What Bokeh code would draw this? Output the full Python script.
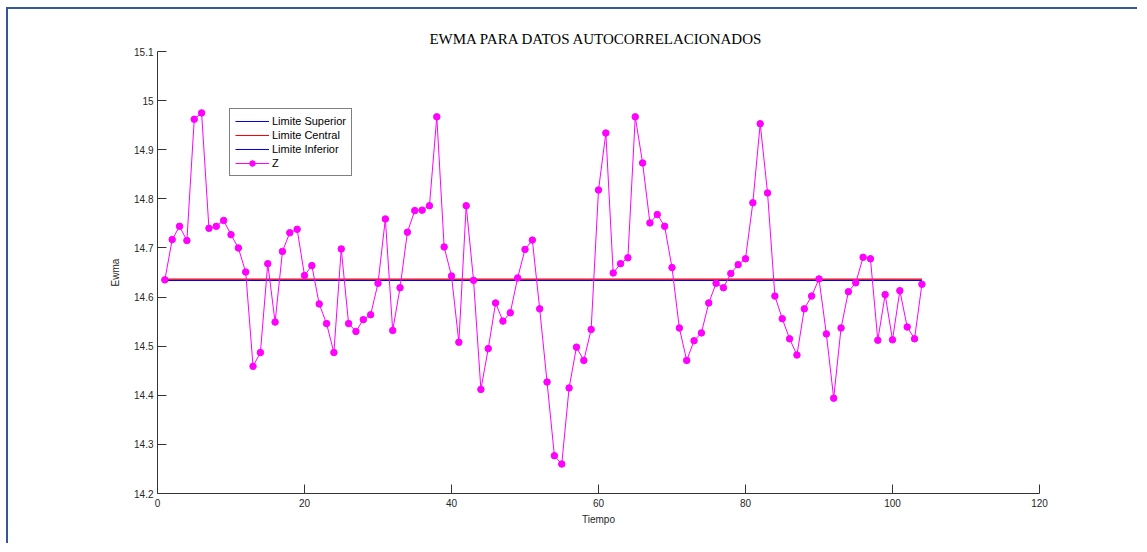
from bokeh.plotting import figure
from bokeh.models import Range1d, FixedTicker, CustomJSTickFormatter, Legend, LegendItem
from bokeh.embed import file_html
from bokeh.resources import INLINE

# ---- data ----
tiempo = list(range(1, 105))
z = [14.635, 14.717, 14.744, 14.715, 14.962, 14.975, 14.740, 14.744, 14.756, 14.727,
     14.700, 14.651, 14.459, 14.487, 14.668, 14.549, 14.693, 14.731, 14.738, 14.644,
     14.664, 14.586, 14.546, 14.487, 14.698, 14.546, 14.530, 14.554, 14.564, 14.628,
     14.759, 14.532, 14.619, 14.732, 14.776, 14.777, 14.786, 14.967, 14.702, 14.643,
     14.508, 14.786, 14.634, 14.412, 14.495, 14.588, 14.551, 14.568, 14.639, 14.697,
     14.716, 14.576, 14.427, 14.277, 14.260, 14.415, 14.498, 14.471, 14.534, 14.818,
     14.934, 14.649, 14.668, 14.680, 14.967, 14.873, 14.751, 14.768, 14.744, 14.660,
     14.537, 14.471, 14.511, 14.527, 14.588, 14.628, 14.619, 14.648, 14.666, 14.678,
     14.792, 14.953, 14.812, 14.602, 14.556, 14.515, 14.482, 14.576, 14.602, 14.637,
     14.525, 14.394, 14.537, 14.611, 14.629, 14.681, 14.678, 14.512, 14.605, 14.513,
     14.613, 14.539, 14.515, 14.626]
limite_superior = 14.6340
limite_central = 14.6365
limite_inferior = 14.6340
x_ticks = [0, 20, 40, 60, 80, 100, 120]
y_ticks = [14.2, 14.3, 14.4, 14.5, 14.6, 14.7, 14.8, 14.9, 15.0, 15.1]

TXT = "#262626"
SANS = "Liberation Sans"
W, H = 1131, 536
ML, MR, MT, MB = 149, 100, 42, 52

p = figure(width=W, height=H, output_backend="svg", toolbar_location=None,
           x_range=Range1d(0, 120), y_range=Range1d(14.2, 15.1),
           min_border_left=ML, min_border_right=MR, min_border_top=MT, min_border_bottom=MB)
p.styles = {"border-left": "2px solid #35579A", "border-top": "2px solid #35579A",
            "margin-left": "6px", "margin-top": "7px"}
p.outline_line_color = None
p.xgrid.visible = False
p.ygrid.visible = False

p.title.text = "EWMA  PARA DATOS AUTOCORRELACIONADOS"
p.title.align = "center"
p.title.text_font = "Liberation Serif"
p.title.text_font_size = "15px"
p.title.text_font_style = "normal"
p.title.text_color = "#000000"
p.title.standoff = 10

for ax in (p.xaxis[0], p.yaxis[0]):
    ax.axis_line_color = "#333333"
    ax.axis_line_width = 1
    ax.major_tick_line_color = "#333333"
    ax.major_tick_in = 9
    ax.major_tick_out = 0
    ax.minor_tick_line_color = None
    ax.major_label_text_font = SANS
    ax.major_label_text_font_size = "10px"
    ax.major_label_text_color = TXT
    ax.axis_label_text_font = SANS
    ax.axis_label_text_font_size = "10px"
    ax.axis_label_text_font_style = "normal"
    ax.axis_label_text_color = TXT

p.xaxis.ticker = FixedTicker(ticks=x_ticks)
p.yaxis.ticker = FixedTicker(ticks=y_ticks)
p.yaxis.formatter = CustomJSTickFormatter(code="return tick.toFixed(1).replace(/\\.0$/, '');")
p.xaxis.axis_label = "Tiempo"
p.yaxis.axis_label = "Ewma"
p.xaxis.major_label_standoff = 5
p.yaxis.major_label_standoff = 4
p.xaxis.axis_label_standoff = 4
p.yaxis.axis_label_standoff = 10

x_ends = [tiempo[0], tiempo[-1]]
r_sup = p.line(x_ends, [limite_superior] * 2, line_color="#0000FF", line_width=1.2)
r_inf = p.line(x_ends, [limite_inferior] * 2, line_color="#0000FF", line_width=1.2)
r_cen = p.line(x_ends, [limite_central] * 2, line_color="#FF0000", line_width=1.2)
r_zl = p.line(tiempo, z, line_color="#FF00FF", line_width=1)
r_zs = p.scatter(tiempo, z, size=6.5, fill_color="#FF00FF", line_color="#FF00FF")

legend = Legend(items=[
    LegendItem(label="Limite Superior", renderers=[r_sup]),
    LegendItem(label="Limite Central", renderers=[r_cen]),
    LegendItem(label="Limite Inferior", renderers=[r_inf]),
    LegendItem(label="Z", renderers=[r_zl, r_zs]),
], location=(72, 317))
legend.border_line_color = "#000000"
legend.border_line_width = 1
legend.background_fill_color = "#FFFFFF"
legend.background_fill_alpha = 1
legend.label_text_font = SANS
legend.label_text_font_size = "11px"
legend.label_text_color = "#000000"
legend.glyph_width = 34
legend.glyph_height = 14
legend.label_height = 14
legend.label_standoff = 3
legend.padding = 5
legend.spacing = 0
legend.margin = 0
p.add_layout(legend)

open("out.html", "w").write(file_html(p, INLINE))
